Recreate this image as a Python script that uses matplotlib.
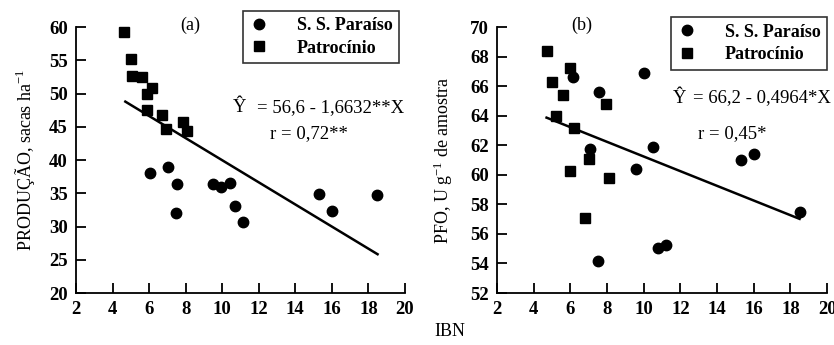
import matplotlib
matplotlib.use("Agg")
import matplotlib.pyplot as plt
import numpy as np

plt.rcParams['font.family'] = ['Liberation Serif', 'DejaVu Serif']
plt.rcParams['mathtext.fontset'] = 'stix'

# (a) PRODUCAO vs IBN
pat_x_a = [4.63, 4.99, 5.05, 5.6, 5.9, 6.14, 5.87, 6.73, 6.93, 7.84, 8.06]
pat_y_a = [59.2, 55.2, 52.7, 52.5, 49.9, 50.9, 47.5, 46.7, 44.6, 45.7, 44.4]
ssp_x_a = [6.07, 7.05, 7.51, 7.46, 9.48, 9.92, 10.43, 10.72, 11.14, 15.27, 15.98, 18.48]
ssp_y_a = [38.05, 38.9, 36.4, 32.1, 36.4, 36.0, 36.5, 33.1, 30.7, 34.9, 32.3, 34.7]

# (b) PFO vs IBN
pat_x_b = [4.70, 5.0, 5.61, 5.19, 5.97, 6.19, 5.97, 7.01, 7.94, 8.1, 6.79]
pat_y_b = [68.4, 66.26, 65.38, 64.0, 67.23, 63.2, 60.28, 61.07, 64.79, 59.78, 57.07]
ssp_x_b = [6.12, 7.56, 7.08, 7.52, 10.01, 10.49, 9.58, 10.76, 11.2, 15.32, 16.03, 18.5]
ssp_y_b = [66.59, 65.6, 61.74, 54.14, 66.91, 61.86, 60.39, 55.04, 55.22, 60.98, 61.43, 57.48]

fit_a = (56.6, -1.6632)
fit_b = (66.2, -0.4964)
line_x = np.array([4.7, 18.5])

fig = plt.figure(figsize=(8.34, 3.45), dpi=100)
ax1 = fig.add_axes([0.0911, 0.1507, 0.3945, 0.771])
ax2 = fig.add_axes([0.596, 0.1507, 0.3957, 0.771])

panels = [
    (ax1, ssp_x_a, ssp_y_a, pat_x_a, pat_y_a, fit_a, (20, 60), 5,
     r"PRODUÇÃO, sacas ha$^{\mathregular{-1}}$", -0.118,
     [243 / 834, 1 - 61 / 345, 156 / 834, 48 / 345]),
    (ax2, ssp_x_b, ssp_y_b, pat_x_b, pat_y_b, fit_b, (52, 70), 2,
     r"PFO, U g$^{\mathregular{-1}}$ de amostra", -0.127,
     [671 / 834, 1 - 68 / 345, 156 / 834, 49 / 345]),
]

for ax, sx, sy, px, py, fit, ylim, ystep, ylab, lx, lbox in panels:
    h1, = ax.plot(sx, sy, 'o', color='black', markersize=7.5, linestyle='none',
                  label='S. S. Paraíso', clip_on=False)
    h2, = ax.plot(px, py, 's', color='black', markersize=7, linestyle='none',
                  label='Patrocínio', clip_on=False)
    ax.plot(line_x, fit[0] + fit[1] * line_x, color='black', lw=1.8)
    ax.set_xlim(2, 20)
    ax.set_ylim(*ylim)
    xt = list(range(2, 21, 2))
    yt = list(range(ylim[0], ylim[1] + 1, ystep))
    ax.set_xticks(xt)
    ax.set_xticklabels([str(v) for v in xt], fontweight='bold', fontsize=13.5)
    ax.set_yticks(yt)
    ax.set_yticklabels([str(v) for v in yt], fontweight='bold', fontsize=13.5)
    for s in ['top', 'right']:
        ax.spines[s].set_visible(False)
    for s in ['left', 'bottom']:
        ax.spines[s].set_linewidth(1.3)
    ax.tick_params(direction='in', length=7, width=1.3, pad=6)
    ax.set_ylabel(ylab, fontsize=13)
    ax.yaxis.set_label_coords(lx, 0.5)
    leg = fig.legend(handles=[h1, h2], loc='center', bbox_to_anchor=lbox,
                     frameon=True, fancybox=False, edgecolor='black',
                     prop={'weight': 'bold', 'size': 13}, handletextpad=1.6,
                     borderpad=0.35, labelspacing=0.3, handlelength=1.0,
                     borderaxespad=0)
    leg.get_frame().set_linewidth(1.2)

fig.text(190 / 834, 1 - 25 / 345, "(a)", fontsize=13, ha='center', va='center')
fig.text(582 / 834, 1 - 25 / 345, "(b)", fontsize=13, ha='center', va='center')

fig.text(233 / 834, 1 - 108 / 345, "Ŷ", fontsize=13.5, ha='left', va='center')
fig.text(257 / 834, 1 - 108 / 345, "= 56,6 - 1,6632**X", fontsize=13.5, ha='left', va='center')
fig.text(270 / 834, 1 - 134 / 345, "r = 0,72**", fontsize=13.5, ha='left', va='center')

fig.text(673 / 834, 1 - 98 / 345, "Ŷ", fontsize=13.5, ha='left', va='center')
fig.text(693 / 834, 1 - 98 / 345, "= 66,2 - 0,4964*X", fontsize=13.5, ha='left', va='center')
fig.text(698 / 834, 1 - 134 / 345, "r = 0,45*", fontsize=13.5, ha='left', va='center')

fig.text(450 / 834, 1 - 332 / 345, "IBN", fontsize=13, ha='center', va='center')

fig.savefig("out.png", dpi=100)
